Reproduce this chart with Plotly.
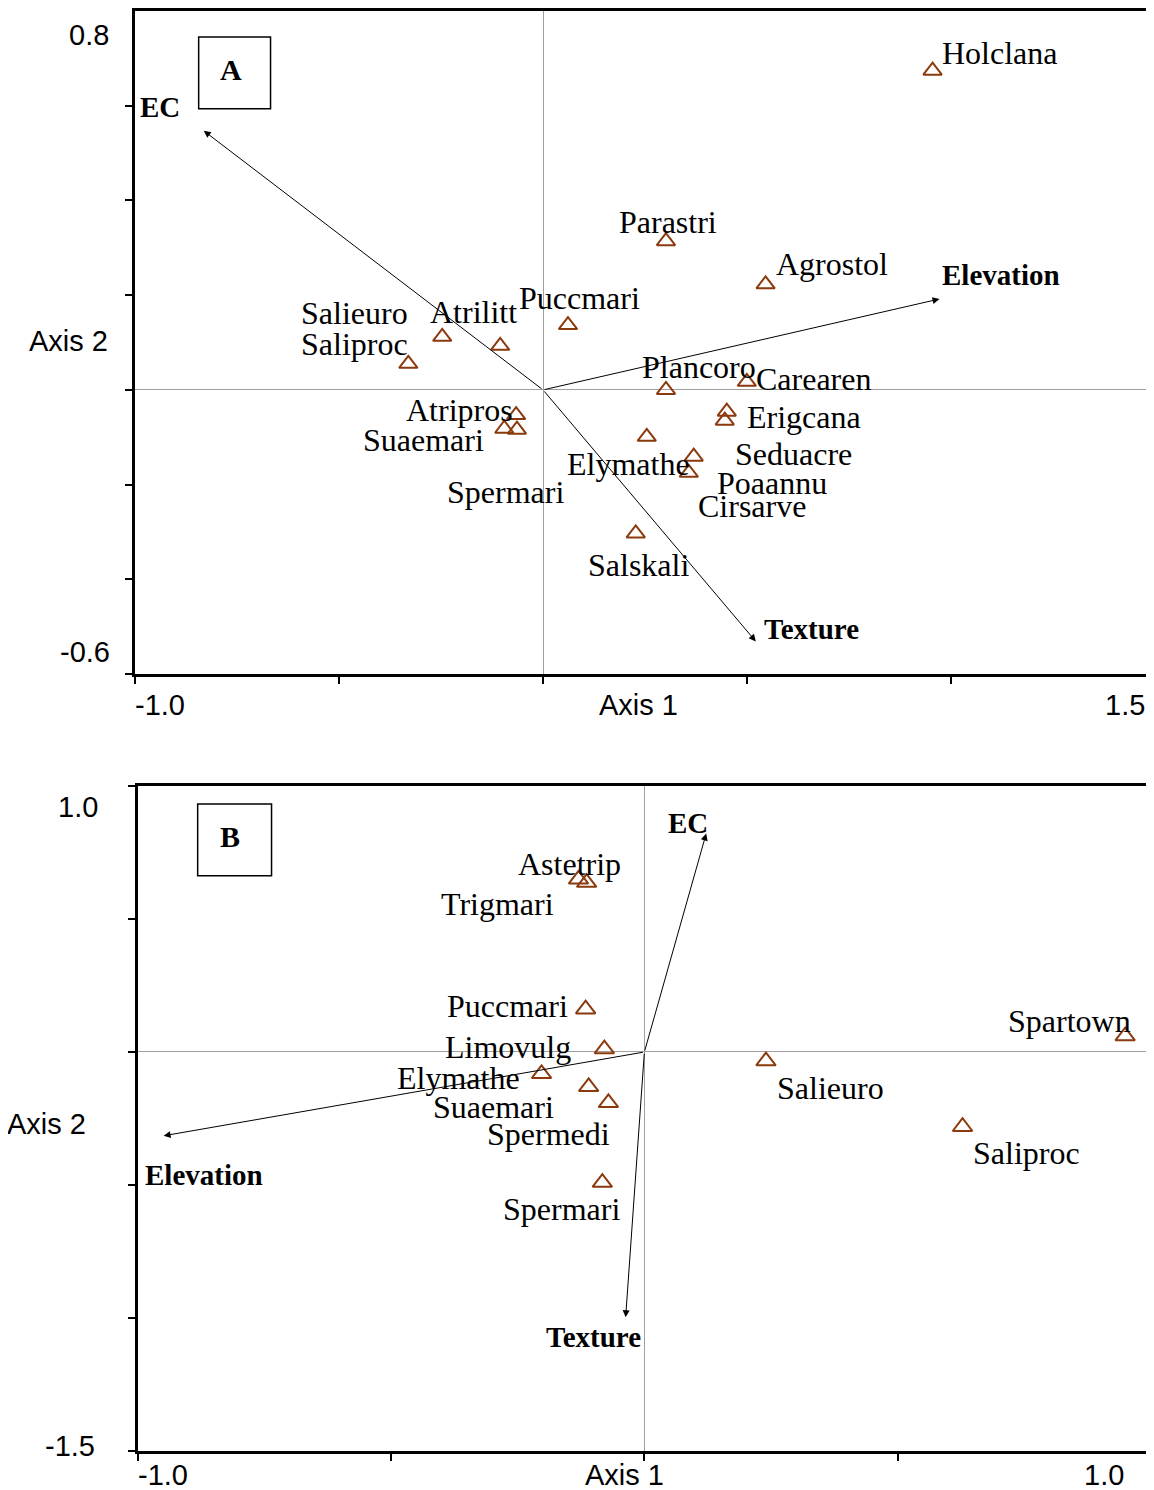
import plotly.graph_objects as go

# the page body adds an 8px margin; the figure is sized and placed to compensate
OX, OY = 8, 8
W, H = 1154 - OX, 1490 - OY

# ---------------- Panel A data ----------------
a_species = ["Holclana", "Parastri", "Agrostol", "Puccmari", "Salieuro", "Atrilitt",
             "Saliproc", "Plancoro", "Carearen", "Erigcana", "Seduacre", "Elymathe",
             "Poaannu", "Cirsarve", "Salskali", "Atripros", "Suaemari", "Spermari"]
a_x = [0.954, 0.301, 0.545, 0.061, -0.247, -0.105, -0.330, 0.301, 0.499, 0.450,
       0.445, 0.254, 0.369, 0.357, 0.227, -0.066, -0.095, -0.064]
a_y = [0.674, 0.314, 0.223, 0.137, 0.112, 0.093, 0.055, 0.000, 0.017, -0.046,
       -0.065, -0.099, -0.141, -0.175, -0.303, -0.053, -0.082, -0.084]
a_env = ["EC", "Elevation", "Texture"]
a_env_x = [-0.831, 0.971, 0.521]
a_env_y = [0.547, 0.192, -0.531]

# ---------------- Panel B data ----------------
b_species = ["Astetrip", "Trigmari", "Puccmari", "Limovulg", "Elymathe", "Suaemari",
             "Spermedi", "Spermari", "Spartown", "Salieuro", "Saliproc"]
b_x = [-0.114, -0.130, -0.116, -0.079, -0.203, -0.110, -0.071, -0.083, 0.949, 0.240, 0.628]
b_y = [0.637, 0.649, 0.161, 0.011, -0.082, -0.131, -0.191, -0.491, 0.060, -0.034, -0.281]
b_env = ["EC", "Elevation", "Texture"]
b_env_x = [0.122, -0.949, -0.037]
b_env_y = [0.821, -0.315, -0.997]

# label offsets in pixels (styling only): (dx, dy up)
a_lab_off = [(67, 18), (2, 19), (66, 20), (12, 27), (-88, 24), (-27, 34), (-54, 20),
             (33, 23), (67, 3), (77, -5), (69, -33), (-18, -27), (78, -26), (63, -33),
             (3, -32), (-57, 5), (-81, -11), (-11, -62)]
a_env_off = [(-44, 24), (61, 24), (56, 12)]
b_lab_off = [(-17, 19), (-81, -25), (-78, 3), (-96, 2), (-83, -4), (-95, -20),
             (-60, -31), (-41, -26), (-56, 15), (65, -27), (64, -26)]
b_env_off = [(-18, 11), (40, -39), (-32, -20)]

BROWN = "#8B3A0E"
SERIF = "Liberation Serif, Times New Roman, serif"
SANS = "Liberation Sans, Arial, sans-serif"


def fx(px):
    return (px - OX) / W


def fy(py):
    return 1 - (py - OY) / H


fig = go.Figure()
fig.add_trace(go.Scatter(x=a_x, y=a_y, mode="markers", xaxis="x", yaxis="y",
                         marker=dict(symbol="triangle-up-open", size=16, color=BROWN,
                                     line=dict(width=2, color=BROWN)),
                         hoverinfo="text", text=a_species))
fig.add_trace(go.Scatter(x=b_x, y=b_y, mode="markers", xaxis="x2", yaxis="y2",
                         marker=dict(symbol="triangle-up-open", size=17, color=BROWN,
                                     line=dict(width=2, color=BROWN)),
                         hoverinfo="text", text=b_species))

ann = []


def species_labels(names, xs, ys, offs, xr, yr):
    for n, x, y, (dx, dy) in zip(names, xs, ys, offs):
        ann.append(dict(x=x, y=y, xref=xr, yref=yr, text=n, showarrow=False,
                        xshift=dx, yshift=dy, font=dict(family=SERIF, size=32, color="black")))


def env_arrows(names, xs, ys, offs, xr, yr):
    for n, x, y, (dx, dy) in zip(names, xs, ys, offs):
        ann.append(dict(x=x, y=y, ax=0, ay=0, xref=xr, yref=yr, axref=xr, ayref=yr,
                        text="", showarrow=True, arrowhead=2, arrowsize=1.4,
                        arrowwidth=1, arrowcolor="black"))
        ann.append(dict(x=x, y=y, xref=xr, yref=yr, text="<b>%s</b>" % n, showarrow=False,
                        xshift=dx, yshift=dy, font=dict(family=SERIF, size=29, color="black")))


species_labels(a_species, a_x, a_y, a_lab_off, "x", "y")
species_labels(b_species, b_x, b_y, b_lab_off, "x2", "y2")
env_arrows(a_env, a_env_x, a_env_y, a_env_off, "x", "y")
env_arrows(b_env, b_env_x, b_env_y, b_env_off, "x2", "y2")


def ptext(px, py, text, size=29, family=SANS, bold=False):
    t = "<b>%s</b>" % text if bold else text
    ann.append(dict(x=fx(px), y=fy(py), xref="paper", yref="paper", text=t,
                    showarrow=False, xanchor="center", yanchor="middle",
                    font=dict(family=family, size=size, color="black")))


# axis text, panel A
ptext(89, 33, "0.8")
ptext(85, 651, "-0.6")
ptext(69, 339, "Axis 2")
ptext(160, 704, "-1.0")
ptext(640, 704, "Axis 1")
ptext(1127, 704, "1.5")
ptext(231, 68, "A", size=30, family=SERIF, bold=True)
# axis text, panel B
ptext(78, 806, "1.0")
ptext(70, 1446, "-1.5")
ptext(47, 1124, "Axis 2")
ptext(163, 1475, "-1.0")
ptext(626, 1475, "Axis 1")
ptext(1106, 1475, "1.0")
ptext(230, 836, "B", size=30, family=SERIF, bold=True)

shapes = [
    dict(type="rect", xref="paper", yref="paper", x0=fx(199), x1=fx(271),
         y0=fy(107), y1=fy(35), line=dict(color="black", width=1.5)),
    dict(type="rect", xref="paper", yref="paper", x0=fx(198), x1=fx(272),
         y0=fy(875), y1=fy(803), line=dict(color="black", width=1.5)),
]

axis_common = dict(showgrid=False, zeroline=True, zerolinecolor="#a0a0a0", zerolinewidth=1,
                   showline=True, linecolor="black", linewidth=3, ticks="outside",
                   ticklen=7, tickwidth=2, tickcolor="black", showticklabels=False,
                   fixedrange=True)

fig.update_layout(
    width=W, height=H, margin=dict(l=0, r=0, t=0, b=0, pad=0),
    paper_bgcolor="white", plot_bgcolor="white", showlegend=False,
    xaxis=dict(domain=[fx(135), 1], range=[-1.0, 1.4914], anchor="y",
               tickvals=[-1.0, -0.5, 0, 0.5, 1.0], mirror=True, **axis_common),
    yaxis=dict(domain=[fy(673), fy(9)], range=[-0.6, 0.8], anchor="x",
               tickvals=[-0.6, -0.4, -0.2, 0, 0.2, 0.4, 0.6], **axis_common),
    xaxis2=dict(domain=[fx(138), fx(1153)], range=[-1.0, 1.0], anchor="y2",
                tickvals=[-1.0, -0.5, 0, 0.5, 1.0], mirror=True, **axis_common),
    yaxis2=dict(domain=[fy(1451), fy(785)], range=[-1.5, 1.0], anchor="x2",
                tickvals=[-1.5, -1.0, -0.5, 0, 0.5, 1.0], mirror=True, **axis_common),
    annotations=ann, shapes=shapes,
)

fig.write_html("out.html")
